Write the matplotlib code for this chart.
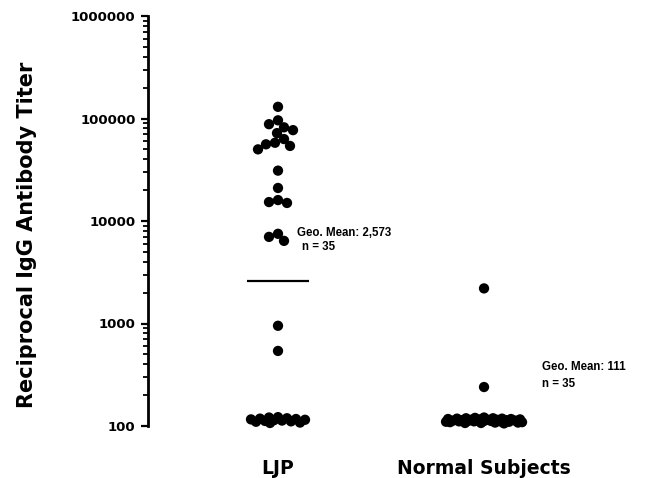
"""
plot.py

Reciprocal IgG antibody titers, LJP patients vs normal subjects.
Dot plot on a log axis with geometric mean bars.

Output:
  out.png
"""

import numpy as np
import matplotlib

matplotlib.use("Agg")
import matplotlib.pyplot as plt
from matplotlib.ticker import FixedLocator, FuncFormatter, LogLocator, NullFormatter


GROUPS = ["LJP", "Normal Subjects"]

LJP_TITER = [
    130000, 96000, 88000, 82000, 77000, 72000, 63000, 58000, 56000, 54000, 50000,
    31000, 21000, 16000, 15300, 15000,
    7500, 7000, 6400,
    950, 540,
    122, 121, 119, 118, 117, 116, 115, 114, 113, 112, 111, 110, 108, 107,
]

NORMAL_TITER = [
    2200, 240,
    121, 120, 119, 119, 118, 118, 117, 117, 116, 116, 115, 115, 115, 114, 114,
    113, 113, 113, 112, 112, 112, 111, 111, 111, 110, 110, 109, 109, 108, 108,
    107, 107, 106,
]

GEO_MEANS = [2573, 111]
N_SUBJECTS = [35, 35]
GEO_MEAN_LABELS = ["Geo. Mean: 2,573", "Geo. Mean: 111"]

Y_TICKS = [100, 1000, 10000, 100000, 1000000]


def swarm_x(ax, xc, values, min_dist, half_width):
    """Place points around xc so they overlap as little as possible (display px)."""
    pts = ax.transData.transform(np.column_stack([np.full(len(values), xc), values]))
    x0 = pts[0, 0]
    ys = pts[:, 1]

    cands = np.arange(-half_width, half_width + 0.5, 1.0)
    cands = cands[np.argsort(np.abs(cands) + 0.01 * (cands > 0), kind="stable")]

    placed = []
    xs = np.zeros(len(values))

    for i, y in enumerate(ys):
        best_off, best_d = 0.0, -1.0
        chosen = None
        for off in cands:
            if placed:
                p = np.array(placed)
                d = np.min(np.hypot(p[:, 0] - (x0 + off), p[:, 1] - y))
            else:
                d = np.inf
            if d >= min_dist:
                chosen = off
                break
            if d > best_d:
                best_d, best_off = d, off
        if chosen is None:
            chosen = best_off
        xs[i] = x0 + chosen
        placed.append((x0 + chosen, y))

    inv = ax.transData.inverted()
    return inv.transform(np.column_stack([xs, ys]))[:, 0]


def main():
    fig = plt.figure(figsize=(6.47, 4.78), dpi=100)
    ax = fig.add_axes([148 / 647, 52 / 478, 499 / 647, 410 / 478])

    ax.set_yscale("log")
    ax.set_ylim(100, 1000000)
    ax.set_xlim(0.369, 2.791)

    for side in ["top", "right", "bottom"]:
        ax.spines[side].set_visible(False)
    ax.spines["left"].set_linewidth(2)

    ax.yaxis.set_major_locator(FixedLocator(Y_TICKS))
    ax.yaxis.set_major_formatter(FuncFormatter(lambda v, p: f"{int(round(v))}"))
    ax.yaxis.set_minor_locator(LogLocator(base=10, subs=np.arange(2, 10)))
    ax.yaxis.set_minor_formatter(NullFormatter())
    ax.tick_params(axis="y", which="major", direction="out", length=5, width=1.6,
                   pad=4, labelsize=9.5)
    ax.tick_params(axis="y", which="minor", direction="out", length=3.5, width=1.3)
    for lab in ax.get_yticklabels():
        lab.set_fontweight("bold")

    ax.set_xticks([1, 2])
    ax.set_xticklabels(GROUPS, fontsize=13.5, fontweight="bold")
    ax.tick_params(axis="x", length=0, pad=24)

    ax.set_ylabel("Reciprocal IgG Antibody Titer", fontsize=15, fontweight="bold")
    ax.yaxis.set_label_coords(-0.222, 0.466)

    groups = [LJP_TITER, NORMAL_TITER]
    half_widths = [27, 38]
    for i, vals in enumerate(groups):
        xc = i + 1
        ax.hlines(GEO_MEANS[i], xc - 0.15, xc + 0.15, color="black", lw=1.6, zorder=1)
        xs = swarm_x(ax, xc, vals, min_dist=9, half_width=half_widths[i])
        ax.scatter(xs, vals, s=55, color="black", edgecolors="none", zorder=3, clip_on=False)

    ann_font = dict(family="Liberation Sans", fontsize=8.3, fontweight="bold", va="center")
    ax.annotate(GEO_MEAN_LABELS[0], xy=(1, GEO_MEANS[0]), xytext=(13.7, 34.6),
                textcoords="offset points", **ann_font)
    ax.annotate(f"n = {N_SUBJECTS[0]}", xy=(1, GEO_MEANS[0]), xytext=(17.3, 24.5),
                textcoords="offset points", **ann_font)
    ax.annotate(GEO_MEAN_LABELS[1], xy=(2, GEO_MEANS[1]), xytext=(41.8, 38.9),
                textcoords="offset points", **ann_font)
    ax.annotate(f"n = {N_SUBJECTS[1]}", xy=(2, GEO_MEANS[1]), xytext=(41.8, 26.6),
                textcoords="offset points", **ann_font)

    fig.savefig("out.png", dpi=100)
    plt.close(fig)


if __name__ == "__main__":
    main()
